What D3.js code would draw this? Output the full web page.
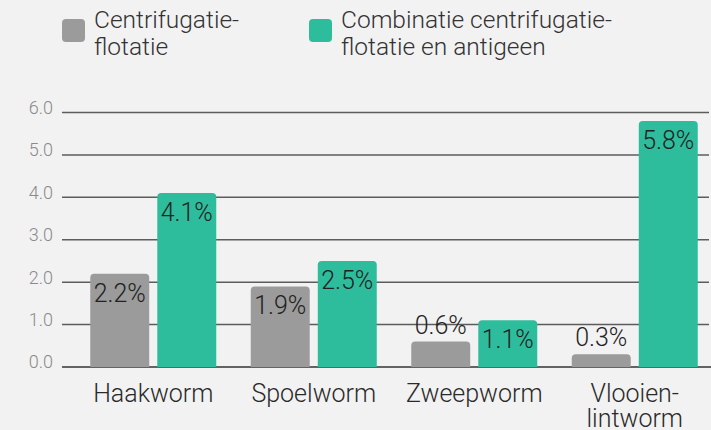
<!DOCTYPE html>
<html>
<head>
<meta charset="utf-8">
<script src="https://cdn.jsdelivr.net/npm/d3@7"></script>
<style>
  html, body { margin: 0; padding: 0; background: #f2f2f2; }
  svg { display: block; font-family: Roboto, "Noto Sans", sans-serif; }
</style>
</head>
<body>
<div id="chart"></div>
<script>
// data
const categories = ["Haakworm", "Spoelworm", "Zweepworm", "Vlooien-\nlintworm"];
const seriesNames = ["Centrifugatie-\nflotatie", "Combinatie centrifugatie-\nflotatie en antigeen"];
const centrifugatie = [2.2, 1.9, 0.6, 0.3];
const combinatie = [4.1, 2.5, 1.1, 5.8];
const yTicks = [0, 1, 2, 3, 4, 5, 6];
const colors = ["#9a9b9a", "#2ebd9c"];

const W = 711, H = 430;

const svg = d3.select("#chart")
  .append("svg")
    .attr("width", W)
    .attr("height", H);

// scales
const y = d3.scaleLinear().domain([0, 6]).range([367, 112.5]);
const x0 = d3.scaleBand().domain(categories).range([73, 715]).paddingInner(0).paddingOuter(0);
const x1 = d3.scaleBand().domain([0, 1]).range([-63, 63]).paddingInner(0.12);

// gridlines
svg.append("g")
  .selectAll("line")
  .data(yTicks)
  .join("line")
    .attr("x1", 62)
    .attr("x2", d => d === 0 ? W : 709)
    .attr("y1", d => y(d))
    .attr("y2", d => y(d))
    .attr("stroke", d => d === 0 ? "#333" : "#5c5c5c")
    .attr("stroke-width", 1.5);

// y axis labels
const yAxis = svg.append("g")
  .attr("transform", "translate(53,0)")
  .call(d3.axisLeft(y).tickValues(yTicks).tickFormat(d3.format(".1f")).tickSize(0).tickPadding(0));
yAxis.select(".domain").remove();
yAxis.selectAll("text")
  .attr("dy", "0.05em")
  .attr("font-size", 18)
  .attr("font-weight", 300)
  .attr("fill", "#8a8a8a")
  .attr("font-family", "Roboto, sans-serif");

// rounded-top bar path
function barPath(bx, by, bw, bh, r) {
  r = Math.min(r, bh, bw / 2);
  return `M${bx},${by + bh}V${by + r}Q${bx},${by} ${bx + r},${by}H${bx + bw - r}Q${bx + bw},${by} ${bx + bw},${by + r}V${by + bh}Z`;
}

const rows = categories.map((c, i) => ({ cat: c, vals: [centrifugatie[i], combinatie[i]] }));

const groups = svg.append("g")
  .selectAll("g")
  .data(rows)
  .join("g")
    .attr("transform", d => `translate(${x0(d.cat) + x0.bandwidth() / 2},0)`);

groups.selectAll("path")
  .data(d => d.vals.map((v, s) => ({ v, s })))
  .join("path")
    .attr("d", d => barPath(x1(d.s), y(d.v), x1.bandwidth(), y(0) - y(d.v), 4))
    .attr("fill", d => colors[d.s]);

groups.selectAll("text.val")
  .data(d => d.vals.map((v, s) => ({ v, s })))
  .join("text")
    .attr("class", "val")
    .attr("x", d => x1(d.s) + x1.bandwidth() / 2)
    .attr("y", d => (y(0) - y(d.v)) < 35 ? y(d.v) - 8 : y(d.v) + 28)
    .attr("text-anchor", "middle")
    .attr("font-size", 25)
    .attr("font-weight", 300)
    .attr("fill", "#222")
    .text(d => d.v.toFixed(1) + "%");

// category labels
const catLabels = svg.append("g")
  .selectAll("text")
  .data(categories)
  .join("text")
    .attr("x", d => x0(d) + x0.bandwidth() / 2)
    .attr("y", 402)
    .attr("text-anchor", "middle")
    .attr("font-size", 25)
    .attr("font-weight", 300)
    .attr("fill", "#2a2a2a");
catLabels.selectAll("tspan")
  .data(d => d.split("\n"))
  .join("tspan")
    .attr("x", function() { return d3.select(this.parentNode).attr("x"); })
    .attr("dy", (d, i) => i === 0 ? 0 : 25)
    .text(d => d);

// legend
const legendX = [62, 309];
const legend = svg.append("g")
  .selectAll("g")
  .data(seriesNames)
  .join("g")
    .attr("transform", (d, i) => `translate(${legendX[i]},0)`);
legend.append("rect")
  .attr("x", 0).attr("y", 19)
  .attr("width", 23).attr("height", 23)
  .attr("rx", 4)
  .attr("fill", (d, i) => colors[i]);
const lt = legend.append("text")
  .attr("x", 32).attr("y", 28)
  .attr("font-size", 24.5)
  .attr("font-weight", 300)
  .attr("fill", "#333");
lt.selectAll("tspan")
  .data(d => d.split("\n"))
  .join("tspan")
    .attr("x", 32)
    .attr("dy", (d, i) => i === 0 ? 0 : 27)
    .text(d => d);
</script>
</body>
</html>
